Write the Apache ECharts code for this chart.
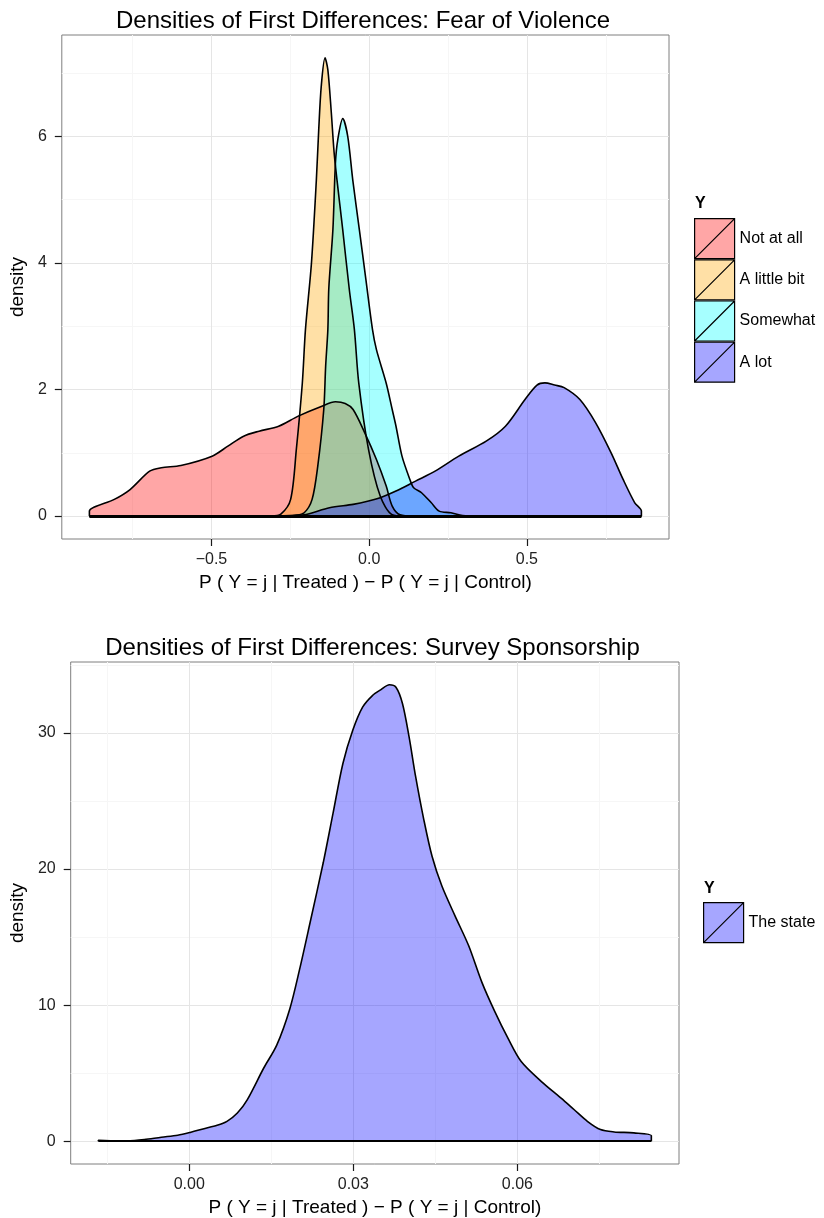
<!DOCTYPE html>
<html>
<head>
<meta charset="utf-8">
<script src="https://cdn.jsdelivr.net/npm/echarts@6/dist/echarts.min.js"></script>
<style>
html,body{margin:0;padding:0;background:#fff;}
#chart{width:824px;height:1218px;}
</style>
</head>
<body>
<div id="chart"></div>
<script>
// ---------- DATA ----------
const titleTop = 'Densities of First Differences: Fear of Violence';
const titleBottom = 'Densities of First Differences: Survey Sponsorship';
const xAxisTitle = 'P ( Y = j | Treated ) \u2212 P ( Y = j | Control)';
const yAxisTitle = 'density';
const legendTitle = 'Y';

const topNames = ['Not at all', 'A little bit', 'Somewhat', 'A lot'];
const bottomNames = ['The state'];

const notAtAll = [[-0.887,0],[-0.887,0.079],[-0.808,0.264],[-0.758,0.42],[-0.696,0.71],[-0.659,0.764],[-0.597,0.80],[-0.498,0.947],[-0.448,1.105],[-0.398,1.263],[-0.349,1.342],[-0.287,1.42],[-0.225,1.58],[-0.150,1.737],[-0.107,1.806],[-0.076,1.78],[-0.051,1.684],[-0.014,1.316],[0.023,0.895],[0.054,0.474],[0.073,0.158],[0.098,0.02],[0.14,0],[0.863,0]];
const aLittleBit = [[-0.887,0],[-0.31,0],[-0.28,0.03],[-0.249,0.264],[-0.231,1.05],[-0.212,2.1],[-0.202,2.95],[-0.183,4.0],[-0.1675,5.31],[-0.160,6.10],[-0.152,6.79],[-0.140,7.24],[-0.131,7.05],[-0.120,6.37],[-0.110,5.68],[-0.084,4.53],[-0.063,3.58],[-0.047,2.95],[-0.033,2.1],[-0.002,1.05],[0.035,0.316],[0.073,0.02],[0.11,0],[0.863,0]];
const somewhat = [[-0.887,0],[-0.26,0],[-0.237,0.01],[-0.206,0.053],[-0.181,0.264],[-0.163,0.79],[-0.144,1.684],[-0.138,2.37],[-0.131,2.95],[-0.128,3.6],[-0.115,4.53],[-0.107,5.58],[-0.0995,5.95],[-0.0838,6.28],[-0.068,6.0],[-0.052,5.31],[-0.031,4.52],[-0.0105,3.74],[0.0104,2.95],[0.023,2.63],[0.054,2.1],[0.073,1.684],[0.085,1.42],[0.104,0.947],[0.129,0.579],[0.141,0.448],[0.166,0.369],[0.197,0.21],[0.222,0.079],[0.259,0.053],[0.296,0.01],[0.346,0],[0.863,0]];
const aLot = [[-0.887,0],[-0.32,0],[-0.25,0.01],[-0.200,0.026],[-0.126,0.132],[-0.051,0.185],[-0.002,0.237],[0.035,0.29],[0.085,0.395],[0.147,0.553],[0.209,0.71],[0.284,0.947],[0.371,1.184],[0.432,1.42],[0.494,1.842],[0.532,2.07],[0.557,2.105],[0.588,2.07],[0.618,2.03],[0.668,1.842],[0.718,1.474],[0.767,1.0],[0.805,0.58],[0.842,0.21],[0.863,0.079],[0.863,0]];

const theState = [[-0.01662,0],[-0.01662,0.06],[-0.0130,0.01],[-0.0100,0.05],[-0.0082,0.12],[-0.0051,0.29],[-0.0021,0.44],[0.0003,0.66],[0.0027,0.92],[0.0051,1.17],[0.0069,1.46],[0.0088,2.07],[0.0106,3.04],[0.0136,5.36],[0.0160,7.06],[0.0184,9.74],[0.0202,12.66],[0.0221,16.07],[0.0245,20.46],[0.0263,24.11],[0.0281,27.76],[0.0299,30.2],[0.0317,31.9],[0.0335,32.75],[0.0350,33.17],[0.0366,33.54],[0.0378,33.36],[0.0390,32.15],[0.0402,29.71],[0.0414,26.79],[0.0429,23.62],[0.0444,20.94],[0.0462,18.75],[0.0486,16.56],[0.0511,14.36],[0.0535,11.69],[0.0559,9.5],[0.0583,7.55],[0.0607,5.85],[0.0644,4.38],[0.0680,3.16],[0.0704,2.31],[0.0728,1.46],[0.0752,0.85],[0.0777,0.68],[0.0813,0.61],[0.0845,0.41],[0.0845,0]];

const xTicksTop = [-0.5, 0, 0.5];
const xMinorTop = [-0.75, -0.25, 0.25, 0.75];
const yTicksTop = [0, 2, 4, 6];
const yMinorTop = [1, 3, 5, 7];
const xTicksBottom = [0, 0.03, 0.06];
const xMinorBottom = [-0.015, 0.015, 0.045, 0.075];
const yTicksBottom = [0, 10, 20, 30];
const yMinorBottom = [5, 15, 25, 35];

// ---------- STYLE ----------
const topColors = ['#FF0000', '#FFA500', '#00FFFF', '#0000FF'];
const bottomColors = ['#0000FF'];
const FILL_ALPHA = 0.35;
const FONT = '"Liberation Sans", Arial, Helvetica, sans-serif';
const MAJOR_GRID = '#E5E5E5';
const MINOR_GRID = '#F6F6F6';

function rgba(hex, a) {
  const r = parseInt(hex.slice(1,3),16), g = parseInt(hex.slice(3,5),16), b = parseInt(hex.slice(5,7),16);
  return 'rgba(' + r + ',' + g + ',' + b + ',' + a + ')';
}
function ranges(list) {
  let xLo = Infinity, xHi = -Infinity, yHi = 0;
  list.forEach(d => d.forEach(p => { xLo = Math.min(xLo, p[0]); xHi = Math.max(xHi, p[0]); yHi = Math.max(yHi, p[1]); }));
  const xp = (xHi - xLo) * 0.05, yp = yHi * 0.05;
  return { xLo, xHi, xMin: xLo - xp, xMax: xHi + xp, yMin: -yp, yMax: yHi + yp };
}
const topData = [notAtAll, aLittleBit, somewhat, aLot];
const bottomData = [theState];
const rT = ranges(topData);
const rB = ranges(bottomData);

function fmtMinus(decimals) {
  return v => (v < -1e-12 ? '\u2212' : '') + Math.abs(v).toFixed(decimals);
}

const gridTop = { left: 57, top: 35, width: 612, height: 504 };
const gridBottom = { left: 66, top: 662, width: 613, height: 504 };

const TICK_STYLE = { color: '#1a1a1a', width: 1.2 };

function mainX(gridIndex, r, ticks, dec) {
  return {
    type: 'value', gridIndex, min: r.xMin, max: r.xMax, position: 'bottom',
    name: xAxisTitle, nameLocation: 'middle', nameGap: 34,
    nameTextStyle: { fontSize: 19, fontFamily: FONT, color: '#000' },
    axisLine: { show: false, onZero: false },
    axisTick: { show: true, inside: false, length: 7, customValues: ticks, lineStyle: TICK_STYLE },
    axisLabel: { show: true, customValues: ticks, margin: 13, fontSize: 16, fontFamily: FONT, color: '#222', formatter: fmtMinus(dec) },
    splitLine: { show: true, lineStyle: { color: MAJOR_GRID, width: 1 } }
  };
}
function minorX(gridIndex, r, ticks) {
  return {
    type: 'value', gridIndex, min: r.xMin, max: r.xMax, position: 'bottom',
    axisLine: { show: false, onZero: false },
    axisTick: { show: false, customValues: ticks },
    axisLabel: { show: false },
    splitLine: { show: true, lineStyle: { color: MINOR_GRID, width: 1 } }
  };
}
function mainY(gridIndex, r, ticks, gap) {
  return {
    type: 'value', gridIndex, min: r.yMin, max: r.yMax, position: 'left',
    name: yAxisTitle, nameLocation: 'middle', nameGap: gap,
    nameTextStyle: { fontSize: 19, fontFamily: FONT, color: '#000' },
    axisLine: { show: false, onZero: false },
    axisTick: { show: true, inside: false, length: 7, customValues: ticks, lineStyle: TICK_STYLE },
    axisLabel: { show: true, customValues: ticks, margin: 15, fontSize: 16, fontFamily: FONT, color: '#222', formatter: v => String(Math.round(v)) },
    splitLine: { show: true, lineStyle: { color: MAJOR_GRID, width: 1 } }
  };
}
function minorY(gridIndex, r, ticks) {
  return {
    type: 'value', gridIndex, min: r.yMin, max: r.yMax, position: 'left',
    axisLine: { show: false, onZero: false },
    axisTick: { show: false, customValues: ticks },
    axisLabel: { show: false },
    splitLine: { show: true, lineStyle: { color: MINOR_GRID, width: 1 } }
  };
}

function densitySeries(names, data, colors, xi, yi, r, baseWidth) {
  return data.map((d, i) => {
    const s = {
      name: names[i], type: 'line', xAxisIndex: xi, yAxisIndex: yi,
      data: d, smooth: 0.3, symbol: 'none', showSymbol: false,
      lineStyle: { color: '#000', width: 1.6 },
      itemStyle: { color: colors[i] },
      areaStyle: { color: colors[i], opacity: FILL_ALPHA },
      emphasis: { disabled: true }, silent: true
    };
    if (i === data.length - 1) {
      s.markLine = {
        silent: true, symbol: ['none', 'none'], label: { show: false },
        lineStyle: { color: '#000', width: baseWidth, type: 'solid' },
        emphasis: { disabled: true },
        data: [[{ coord: [r.xLo, 0] }, { coord: [r.xHi, 0] }]]
      };
    }
    return s;
  });
}

const legendIcon = 'path://M0,0L40,0L40,40L0,40Z M0,40L40,0';
function legendOf(names, colors, left, top) {
  return {
    orient: 'vertical', left, top, padding: 0, itemGap: 0, itemWidth: 40, itemHeight: 40,
    selectedMode: false, icon: legendIcon,
    textStyle: { fontSize: 16, fontFamily: FONT, color: '#000' },
    data: names.map((n, i) => ({
      name: n, icon: legendIcon,
      itemStyle: { color: rgba(colors[i], FILL_ALPHA), borderColor: '#000', borderWidth: 1.2 }
    }))
  };
}

const option = {
  animation: false,
  backgroundColor: '#fff',
  grid: [
    Object.assign({ show: true, borderColor: '#7F7F7F', borderWidth: 1, backgroundColor: 'transparent', containLabel: false }, gridTop),
    Object.assign({ show: true, borderColor: '#7F7F7F', borderWidth: 1, backgroundColor: 'transparent', containLabel: false }, gridBottom)
  ],
  xAxis: [
    mainX(0, rT, xTicksTop, 1),
    minorX(0, rT, xMinorTop),
    mainX(1, rB, xTicksBottom, 2),
    minorX(1, rB, xMinorBottom)
  ],
  yAxis: [
    mainY(0, rT, yTicksTop, 27),
    minorY(0, rT, yMinorTop),
    mainY(1, rB, yTicksBottom, 36),
    minorY(1, rB, yMinorBottom)
  ],
  legend: [
    legendOf(topNames, topColors, 694, 218),
    legendOf(bottomNames, bottomColors, 703, 902)
  ],
  graphic: [
    { type: 'text', x: gridTop.left + gridTop.width / 2, y: 21, silent: true,
      style: { text: titleTop, fontSize: 24, fontFamily: FONT, fill: '#000', align: 'center', verticalAlign: 'middle' } },
    { type: 'text', x: gridBottom.left + gridBottom.width / 2, y: 648, silent: true,
      style: { text: titleBottom, fontSize: 24, fontFamily: FONT, fill: '#000', align: 'center', verticalAlign: 'middle' } },
    { type: 'text', x: 695, y: 204, silent: true,
      style: { text: legendTitle, fontSize: 16, fontWeight: 'bold', fontFamily: FONT, fill: '#000', align: 'left', verticalAlign: 'middle' } },
    { type: 'text', x: 704, y: 889, silent: true,
      style: { text: legendTitle, fontSize: 16, fontWeight: 'bold', fontFamily: FONT, fill: '#000', align: 'left', verticalAlign: 'middle' } }
  ],
  series: [].concat(
    densitySeries(topNames, topData, topColors, 0, 0, rT, 3),
    densitySeries(bottomNames, bottomData, bottomColors, 2, 2, rB, 1.8)
  )
};

const chart = echarts.init(document.getElementById('chart'), null, { renderer: 'canvas' });
chart.setOption(option);
</script>
</body>
</html>
